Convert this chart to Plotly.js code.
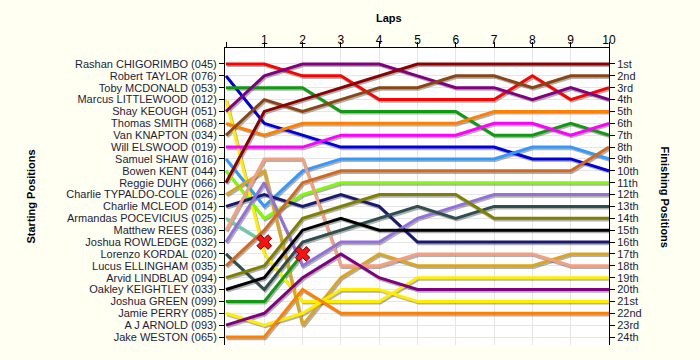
<!DOCTYPE html>
<html><head><meta charset="utf-8">
<script src="https://cdn.plot.ly/plotly-3.0.1.min.js"></script>
<style>html,body{margin:0;padding:0;background:#FFFFF2;}#chart{width:700px;height:360px;}</style>
</head><body><div id="chart"></div>
<script>
// ---- data ----
const laps = [0, 1, 2, 3, 4, 5, 6, 7, 8, 9, 10];
const lapTickLabels = ['', '1', '2', '3', '4', '5', '6', '7', '8', '9', '10'];
const gridPositions = [1,2,3,4,5,6,7,8,9,10,11,12,13,14,15,16,17,18,19,20,21,22,23,24];
const startingNames = [
  'Rashan CHIGORIMBO (045)', 'Robert TAYLOR (076)', 'Toby MCDONALD (053)', 'Marcus LITTLEWOOD (012)',
  'Shay KEOUGH (051)', 'Thomas SMITH (068)', 'Van KNAPTON (034)', 'Will ELSWOOD (019)',
  'Samuel SHAW (016)', 'Bowen KENT (044)', 'Reggie DUHY (066)', 'Charlie TYPALDO-COLE (026)',
  'Charlie MCLEOD (014)', 'Armandas POCEVICIUS (025)', 'Matthew REES (036)', 'Joshua ROWLEDGE (032)',
  'Lorenzo KORDAL (020)', 'Lucus ELLINGHAM (035)', 'Arvid LINDBLAD (094)', 'Oakley KEIGHTLEY (033)',
  'Joshua GREEN (099)', 'Jamie PERRY (085)', 'A J ARNOLD (093)', 'Jake WESTON (065)'
];
const finishingLabels = ['1st','2nd','3rd','4th','5th','6th','7th','8th','9th','10th','11th','12th',
  '13th','14th','15th','16th','17th','18th','19th','20th','21st','22nd','23rd','24th'];

// position after each lap (lap 0 = grid)
const rashanChigorimbo   = [1, 1, 2, 2, 4, 4, 4, 4, 2, 4, 3];
const robertTaylor       = [2, 6, 7, 8, 8, 8, 8, 8, 9, 9, 10];
const tobyMcdonald       = [3, 3, 3, 5, 5, 5, 5, 7, 7, 6, 7];
const marcusLittlewood   = [4, 17, 21, 21, 21, 19, 19, 19, 19, 19, 19];
const shayKeough         = [5, 2, 1, 1, 1, 2, 3, 3, 4, 3, 4];
const thomasSmith        = [6, 7, 6, 6, 6, 6, 6, 5, 5, 5, 5];
const vanKnapton         = [7, 4, 5, 4, 3, 3, 2, 2, 3, 2, 2];
const willElswood        = [8, 8, 8, 7, 7, 7, 7, 6, 6, 7, 6];
const samuelShaw         = [9, 13, 10, 9, 9, 9, 9, 9, 8, 8, 9];
const bowenKent          = [10, 14, 12, 11, 11, 11, 11, 11, 11, 11, 11];
const reggieDuhy         = [11, 5, 4, 3, 2, 1, 1, 1, 1, 1, 1];
const charlieTypaldoCole = [12, 10, 23, 19, 17, 18, 18, 18, 18, 17, 17];
const charlieMcleod      = [13, 12, 13, 12, 13, 16, 16, 16, 16, 16, 16];
const armandasPocevicius = [14, 16];
const matthewRees        = [15, 9, 9, 18, 18, 17, 17, 17, 17, 18, 18];
const joshuaRowledge     = [16, 11, 18, 16, 16, 14, 13, 12, 12, 12, 12];
const lorenzoKordal      = [17, 20, 16, 15, 14, 13, 14, 13, 13, 13, 13];
const lucusEllingham     = [18, 15, 11, 10, 10, 10, 10, 10, 10, 10, 8];
const arvidLindblad      = [19, 18, 14, 13, 12, 12, 12, 14, 14, 14, 14];
const oakleyKeightley    = [20, 19, 15, 14, 15, 15, 15, 15, 15, 15, 15];
const joshuaGreen        = [21, 21, 17];
const jamiePerry         = [22, 23, 22, 20, 20, 21, 21, 21, 21, 21, 21];
const ajArnold           = [23, 22, 19, 17, 19, 20, 20, 20, 20, 20, 20];
const jakeWeston         = [24, 24, 20, 22, 22, 22, 22, 22, 22, 22, 22];

const driverSeries = [rashanChigorimbo, robertTaylor, tobyMcdonald, marcusLittlewood, shayKeough,
  thomasSmith, vanKnapton, willElswood, samuelShaw, bowenKent, reggieDuhy, charlieTypaldoCole,
  charlieMcleod, armandasPocevicius, matthewRees, joshuaRowledge, lorenzoKordal, lucusEllingham,
  arvidLindblad, oakleyKeightley, joshuaGreen, jamiePerry, ajArnold, jakeWeston];

// ---- styles ----
const lineColors = ['#FF0000', '#0000DD', '#109A10', '#FFEE00', '#800080', '#FF8000', '#8B4513',
  '#FF00FF', '#3399FF', '#7CFC00', '#8B0000', '#DAA520', '#1A1A70', '#66CDAA', '#F4A080',
  '#9370DB', '#2F4F4F', '#D2691E', '#808000', '#000000', '#109A10', '#FFEE00', '#800080', '#FF8000'];

const X0 = -0.026, X1 = 10, Y0 = 24.67, Y1 = -0.343;
const plotW = 384, plotH = 297;
const dxU = 1.2 * (X1 - X0) / plotW, dyU = 1.6 * (Y0 - Y1) / plotH;

const traces = [{x: [], y: [], xaxis: 'x', yaxis: 'y', mode: 'lines', hoverinfo: 'skip'}];
driverSeries.forEach(s => {
  traces.push({x: laps.slice(0, s.length), y: s, xaxis: 'x2', yaxis: 'y2', mode: 'lines',
    line: {color: 'rgba(80,80,80,0.45)', width: 3}, hoverinfo: 'skip'});
});
driverSeries.forEach((s, i) => {
  traces.push({x: laps.slice(0, s.length), y: s, xaxis: 'x3', yaxis: 'y3', mode: 'lines',
    line: {color: lineColors[i], width: 3}, name: startingNames[i]});
});
const retX = [], retY = [];
driverSeries.forEach(s => { if (s.length < laps.length) { retX.push(laps[s.length - 1]); retY.push(s[s.length - 1]); } });
traces.push({x: retX, y: retY, xaxis: 'x3', yaxis: 'y3', mode: 'markers',
  marker: {symbol: 'x', size: 13, color: '#FF1010', line: {color: '#700000', width: 1}}, hoverinfo: 'skip'});

const fam = '"Liberation Sans", Arial, sans-serif';
const tickFont = {family: fam, size: 11, color: '#1c1c3c'};
const layout = {
  width: 700, height: 360,
  paper_bgcolor: '#FFFFF2', plot_bgcolor: '#FFFFFF',
  margin: {l: 225, r: 91, t: 48, b: 15, pad: 0},
  showlegend: false,
  font: tickFont,
  xaxis: {range: [X0, X1], side: 'top', tickmode: 'array', tickvals: laps, ticktext: lapTickLabels,
    showgrid: true, gridcolor: '#E6E6E6', gridwidth: 1, zeroline: false, showline: true,
    linecolor: '#000', linewidth: 1, ticks: 'outside', ticklen: 5, tickcolor: '#000',
    ticklabelstandoff: -7,
    tickfont: {family: fam, size: 12, color: '#000'}, fixedrange: true},
  yaxis: {range: [Y0, Y1], tickmode: 'array', tickvals: gridPositions, ticktext: startingNames,
    showgrid: true, gridcolor: '#E6E6E6', gridwidth: 1, zeroline: false, showline: true,
    linecolor: '#000', linewidth: 1, ticks: 'outside', ticklen: 5, tickcolor: '#000', tickfont: tickFont, fixedrange: true},
  xaxis2: {overlaying: 'x', anchor: 'y2', range: [X0 - dxU, X1 - dxU], visible: false, fixedrange: true},
  yaxis2: {overlaying: 'y', anchor: 'x2', range: [Y0 - dyU, Y1 - dyU], visible: false, fixedrange: true},
  xaxis3: {overlaying: 'x', anchor: 'y3', range: [X0, X1], visible: false, fixedrange: true},
  yaxis3: {overlaying: 'y', anchor: 'x3', side: 'right', range: [Y0, Y1], tickmode: 'array',
    tickvals: gridPositions, ticktext: finishingLabels, showgrid: false, zeroline: false, showline: true,
    linecolor: '#000', linewidth: 1, ticks: 'outside', ticklen: 5, tickcolor: '#000', tickfont: tickFont, fixedrange: true},
  annotations: [
    {text: '<b>Laps</b>', xref: 'paper', yref: 'paper', x: (389 - 225) / plotW, y: 1, xanchor: 'center', yanchor: 'middle',
      yshift: 30, showarrow: false, font: {family: fam, size: 11, color: '#000'}},
    {text: '<b>Starting Positions</b>', xref: 'paper', yref: 'paper', x: (30 - 225) / plotW, y: 0.5,
      xanchor: 'center', yanchor: 'middle',
      textangle: -90, showarrow: false, font: {family: fam, size: 11, color: '#000'}},
    {text: '<b>Finishing Positions</b>', xref: 'paper', yref: 'paper', x: (665 - 225) / plotW, y: 0.5,
      xanchor: 'center', yanchor: 'middle',
      textangle: 90, showarrow: false, font: {family: fam, size: 11, color: '#000'}}
  ]
};
Plotly.newPlot('chart', traces, layout, {staticPlot: true, displayModeBar: false});
</script>
</body></html>
